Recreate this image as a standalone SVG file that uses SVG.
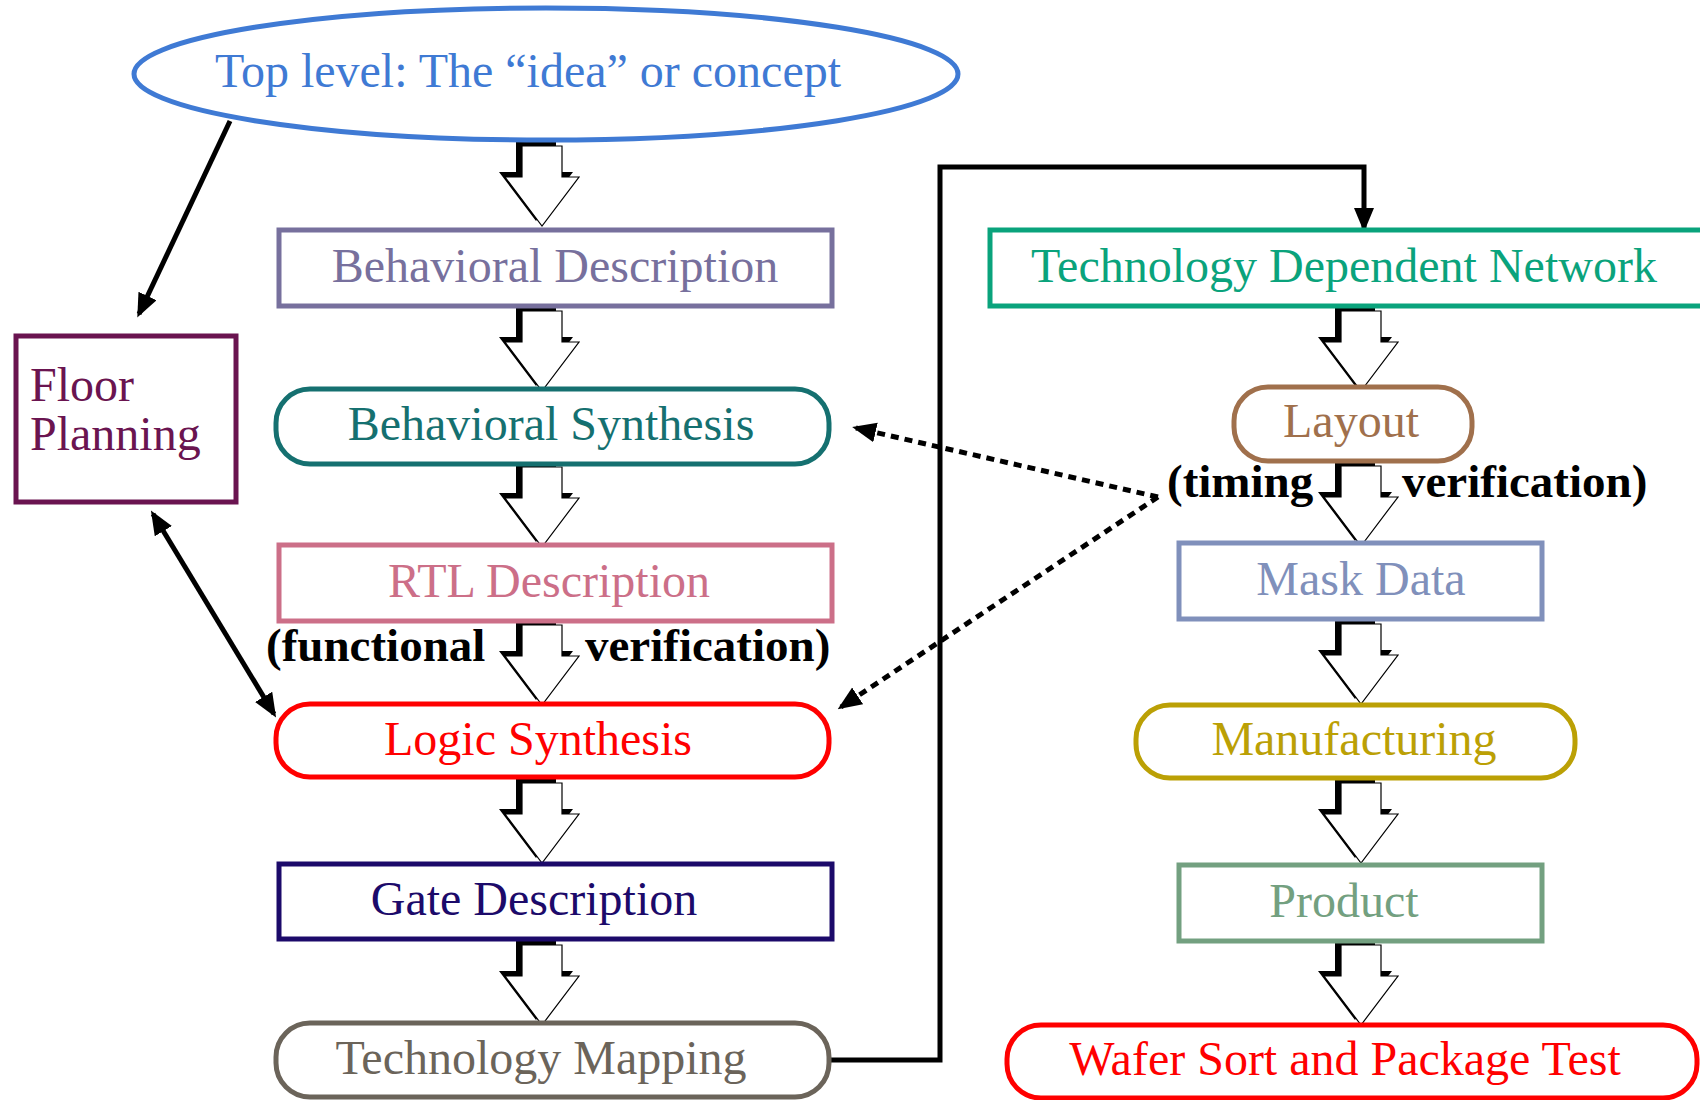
<svg xmlns="http://www.w3.org/2000/svg" width="1700" height="1100" viewBox="0 0 1700 1100">
<style>
text{font-family:"Liberation Serif","Times New Roman",serif;font-size:48px;text-anchor:middle}
.lbl{font-weight:bold;font-size:47px;text-anchor:start;fill:#000}
.box{fill:#fff;stroke-width:5}
.conn{fill:none;stroke:#000;stroke-width:5}
.dot{fill:none;stroke:#000;stroke-width:5;stroke-dasharray:8 6}
.sh{fill:#000}
.wh{fill:#fff;stroke:#000;stroke-width:1.2}
</style>
<defs>
<marker id="ah" markerUnits="userSpaceOnUse" markerWidth="24" markerHeight="22" refX="20" refY="10" orient="auto-start-reverse">
<path d="M0,0 L24,10 L0,20 Z" fill="#000"/>
</marker>
<g id="ba">
<path class="sh" d="M-26,-5 H14 V26 H31 L-6,75 L-43,26 H-26 Z"/>
<path class="wh" d="M-20,0 H20 V31 H37 L0,80 L-37,31 H-20 Z"/>
</g>
</defs>

<g id="connectors">
<line class="conn" x1="230" y1="121" x2="139" y2="314" marker-end="url(#ah)"/>
<line class="conn" x1="153" y1="514" x2="274" y2="714" marker-start="url(#ah)" marker-end="url(#ah)"/>
<polyline class="conn" points="829,1060 940,1060 940,167 1364,167 1364,228" marker-end="url(#ah)"/>
<line class="dot" x1="1158" y1="497" x2="856" y2="428" marker-end="url(#ah)"/>
<line class="dot" x1="1158" y1="497" x2="841" y2="707" marker-end="url(#ah)"/>
<use href="#ba" x="542" y="146"/>
<use href="#ba" x="542" y="311"/>
<use href="#ba" x="542" y="467"/>
<use href="#ba" x="542" y="625"/>
<use href="#ba" x="542" y="783"/>
<use href="#ba" x="542" y="945"/>
<use href="#ba" x="1361" y="311"/>
<use href="#ba" x="1361" y="466"/>
<use href="#ba" x="1361" y="624"/>
<use href="#ba" x="1361" y="783"/>
<use href="#ba" x="1361" y="945"/>
</g>

<g id="top">
<ellipse class="box" cx="546" cy="74" rx="412" ry="66" fill="none" style="fill:none" stroke="#3f7ad4"/>
<text x="528" y="87" fill="#3f7ad4">Top level: The “idea” or concept</text>
</g>
<g id="floor">
<rect class="box" x="16" y="336" width="220" height="166" stroke="#6a1450" stroke-width="6"/>
<text x="30" y="401" fill="#6a1450" style="text-anchor:start">Floor</text>
<text x="30" y="450" fill="#6a1450" style="text-anchor:start">Planning</text>
</g>
<g id="behav-desc">
<rect class="box" x="279" y="230" width="553" height="76" stroke="#77709d"/>
<text x="555" y="282" fill="#77709d">Behavioral Description</text>
</g>
<g id="behav-synth">
<rect class="box" x="276" y="389" width="553" height="75" rx="34" stroke="#157070"/>
<text x="551" y="440" fill="#157070">Behavioral Synthesis</text>
</g>
<g id="rtl">
<rect class="box" x="279" y="545" width="553" height="76" stroke="#cc6f88"/>
<text x="549" y="597" fill="#cc6f88">RTL Description</text>
</g>
<g id="logic">
<rect class="box" x="276" y="704" width="553" height="73" rx="34" stroke="#ff0000"/>
<text x="538" y="755" fill="#ff0000">Logic Synthesis</text>
</g>
<g id="gate">
<rect class="box" x="279" y="864" width="553" height="75" stroke="#1c0a6a"/>
<text x="534" y="915" fill="#1c0a6a">Gate Description</text>
</g>
<g id="techmap">
<rect class="box" x="276" y="1023" width="553" height="74" rx="34" stroke="#6b645a"/>
<text x="541" y="1074" fill="#6b645a">Technology Mapping</text>
</g>
<g id="tdn">
<rect class="box" x="990" y="230" width="730" height="76" stroke="#0aa37c"/>
<text x="1344" y="282" fill="#0aa37c">Technology Dependent Network</text>
</g>
<g id="layout">
<rect class="box" x="1234" y="387" width="238" height="74" rx="34" stroke="#a0704c"/>
<text x="1351" y="437" fill="#a0704c">Layout</text>
</g>
<g id="mask">
<rect class="box" x="1179" y="543" width="363" height="76" stroke="#8090bb"/>
<text x="1361" y="595" fill="#8090bb">Mask Data</text>
</g>
<g id="manuf">
<rect class="box" x="1136" y="705" width="439" height="73" rx="34" stroke="#bba005"/>
<text x="1354" y="755" fill="#bba005">Manufacturing</text>
</g>
<g id="product">
<rect class="box" x="1179" y="865" width="363" height="76" stroke="#73a080"/>
<text x="1344" y="917" fill="#73a080">Product</text>
</g>
<g id="wafer">
<rect class="box" x="1007" y="1025" width="690" height="73" rx="34" stroke="#ff0000"/>
<text x="1345" y="1075" fill="#ff0000">Wafer Sort and Package Test</text>
</g>

<g id="labels">
<text class="lbl" x="266" y="661">(functional</text>
<text class="lbl" x="585" y="661">verification)</text>
<text class="lbl" x="1167" y="497">(timing</text>
<text class="lbl" x="1402" y="497">verification)</text>
</g>
</svg>
